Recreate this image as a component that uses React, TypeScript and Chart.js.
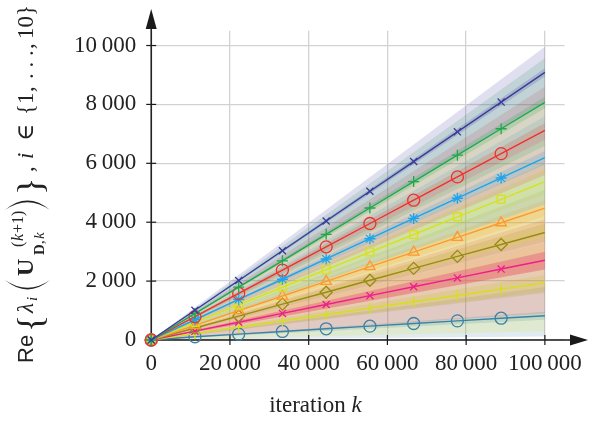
import React, { useEffect, useRef } from "react";
import { Chart, registerables } from "chart.js";
Chart.register(...registerables);

// ---- data ----
const iterations = [0, 11111, 22222, 33333, 44444, 55556, 66667, 77778, 88889, 100000];
const lambda1 = [0, 1010, 2020, 3030, 4040, 5050, 6060, 7070, 8080, 9090];
const lambda2 = [0, 897, 1793, 2690, 3587, 4483, 5380, 6277, 7173, 8070];
const lambda3 = [0, 791, 1582, 2373, 3164, 3956, 4747, 5538, 6329, 7120];
const lambda4 = [0, 688, 1376, 2063, 2751, 3439, 4127, 4814, 5502, 6190];
const lambda5 = [0, 597, 1194, 1792, 2389, 2986, 3583, 4181, 4778, 5375];
const lambda6 = [0, 498, 996, 1493, 1991, 2489, 2987, 3484, 3982, 4480];
const lambda7 = [0, 406, 811, 1217, 1622, 2028, 2433, 2839, 3244, 3650];
const lambda8 = [0, 301, 602, 903, 1204, 1506, 1807, 2108, 2409, 2710];
const lambda9 = [0, 216, 432, 648, 864, 1081, 1297, 1513, 1729, 1945];
const lambda10 = [0, 110, 200, 290, 380, 470, 560, 650, 740, 825];
const seriesValues = [lambda1, lambda2, lambda3, lambda4, lambda5, lambda6, lambda7, lambda8, lambda9, lambda10];

// band edges at the last iteration (bands start at the origin)
const bandIterations = [0, 100000];
const outerUpper = [9960, 9565, 8600, 7600, 6800, 6000, 5100, 4100, 3300, 1800];
const outerLower = [8100, 6600, 5600, 4600, 3500, 2400, 1600, 900, 300, 120];
const innerUpper = [9230, 8260, 7370, 6420, 5770, 4750, 3960, 3000, 2210, 960];
const innerLower = [8950, 7870, 6800, 5960, 4950, 4200, 3340, 2390, 1650, 690];

const xTicks = [0, 20000, 40000, 60000, 80000, 100000];
const yTicks = [0, 2000, 4000, 6000, 8000, 10000];

const colors = ["#3b3b9a", "#1fa84c", "#f0312c", "#1aa6ec", "#dbe01a", "#fc9a30", "#978c16", "#ee1f8b", "#d3e01c", "#3c82a6"];
const markers = ["crossRot", "cross", "circle", "star", "rect", "triangle", "rectRot", "crossRot", "line", "circle"];
const markerRot = [0, 0, 0, 0, 0, 0, 0, 0, 90, 0];
const markerSize = [5, 5.5, 6, 5.5, 5.5, 6, 6, 5, 5.5, 6];

const serif = "'Liberation Serif', 'DejaVu Serif', serif";

function fmt(v: number) {
  return String(v).replace(/\B(?=(\d{3})+(?!\d))/g, "\u2009");
}

function hexA(hex: string, a: number) {
  const n = parseInt(hex.slice(1), 16);
  return `rgba(${(n >> 16) & 255},${(n >> 8) & 255},${n & 255},${a})`;
}

function paren(ctx: CanvasRenderingContext2D, s: number, top: number, bot: number, dir: number) {
  const h = bot - top;
  const mid = (top + bot) / 2;
  const bulge = s - dir * h * 0.22;
  ctx.beginPath();
  ctx.moveTo(s + dir * h * 0.2, top);
  ctx.quadraticCurveTo(bulge, mid, s + dir * h * 0.2, bot);
  ctx.quadraticCurveTo(bulge + dir * 3.2, mid, s + dir * h * 0.2, top);
  ctx.closePath();
  ctx.fill();
}

const decorPlugin = {
  id: "decor",
  beforeDatasetsDraw(chart: any) {
    const ctx = chart.ctx;
    const xs = chart.scales.x;
    const ys = chart.scales.y;
    const x0 = xs.getPixelForValue(0);
    const y0 = ys.getPixelForValue(0);
    ctx.save();
    ctx.strokeStyle = "#1a1a1a";
    ctx.fillStyle = "#1a1a1a";
    ctx.lineWidth = 1.5;
    ctx.beginPath();
    ctx.moveTo(x0 - 6, y0);
    ctx.lineTo(575, y0);
    ctx.stroke();
    ctx.beginPath();
    ctx.moveTo(588, y0);
    ctx.lineTo(570, y0 - 5.5);
    ctx.lineTo(570, y0 + 5.5);
    ctx.closePath();
    ctx.fill();
    ctx.beginPath();
    ctx.moveTo(x0, y0 + 6);
    ctx.lineTo(x0, 22);
    ctx.stroke();
    ctx.beginPath();
    ctx.moveTo(x0, 9);
    ctx.lineTo(x0 - 5.5, 29);
    ctx.lineTo(x0 + 5.5, 29);
    ctx.closePath();
    ctx.fill();
    ctx.lineWidth = 1.2;
    for (const t of xTicks) {
      if (t === 0) continue;
      const px = xs.getPixelForValue(t);
      ctx.beginPath();
      ctx.moveTo(px, y0 - 5);
      ctx.lineTo(px, y0 + 5);
      ctx.stroke();
    }
    for (const t of yTicks) {
      if (t === 0) continue;
      const py = ys.getPixelForValue(t);
      ctx.beginPath();
      ctx.moveTo(x0 - 5, py);
      ctx.lineTo(x0 + 5, py);
      ctx.stroke();
    }
    ctx.restore();
  },
  afterDraw(chart: any) {
    const ctx = chart.ctx;
    ctx.save();
    ctx.fillStyle = "#222";
    ctx.textBaseline = "alphabetic";
    const a = "iteration ";
    ctx.font = `23px ${serif}`;
    const wa = ctx.measureText(a).width;
    ctx.font = `italic 23px ${serif}`;
    const wk = ctx.measureText("k").width;
    const start = 315.5 - (wa + wk) / 2;
    ctx.font = `23px ${serif}`;
    ctx.fillText(a, start, 412);
    ctx.font = `italic 23px ${serif}`;
    ctx.fillText("k", start + wa, 412);

    ctx.translate(33, 363);
    ctx.rotate(-Math.PI / 2);
    const pieces: [string, string, number, number][] = [
      ["Re", "22px 'Liberation Sans', 'DejaVu Sans', sans-serif", 0, 0],
      ["{", `36px ${serif}`, 31, 9],
      ["\u03bb", `italic 23px ${serif}`, 50, 0],
      ["i", `italic 15px ${serif}`, 62, 4],
      ["U", `bold 24px ${serif}`, 87, 0],
      ["(", `16px ${serif}`, 116, -10],
      ["k", `italic 16px ${serif}`, 122, -10],
      ["+1)", `16px ${serif}`, 130, -10],
      ["D", `bold 15px ${serif}`, 108, 11],
      [",", `15px ${serif}`, 119, 11],
      ["k", `italic 15px ${serif}`, 124, 11],
      ["}", `36px ${serif}`, 168, 9],
      [",", `23px ${serif}`, 191, 0],
      ["i", `italic 23px ${serif}`, 204, 0],
      ["\u2208", `23px 'DejaVu Serif', serif`, 222, 0],
      ["{", `23px ${serif}`, 248, 0],
      ["1", `23px ${serif}`, 259, 0],
      [",", `23px ${serif}`, 271, 0],
      [". . .", `23px ${serif}`, 284, 0],
      [",", `23px ${serif}`, 314, 0],
      ["10", `23px ${serif}`, 324, 0],
      ["}", `23px ${serif}`, 347, 0],
    ];
    for (const [t, f, s, dy] of pieces) {
      ctx.font = f;
      ctx.fillText(t, s, dy);
    }
    paren(ctx, 74, -28, 17, 1);
    paren(ctx, 162, -28, 17, -1);
    ctx.restore();
  },
};

export default function App() {
  const ref = useRef<HTMLCanvasElement | null>(null);
  useEffect(() => {
    if (!ref.current) return;
    const datasets: any[] = [];
    for (let i = 0; i < seriesValues.length; i++) {
      const c = colors[i];
      datasets.push({
        data: bandIterations.map((x, j) => ({ x, y: j === 0 ? 0 : outerUpper[i] })),
        borderWidth: 0, pointRadius: 0, fill: "+1",
        backgroundColor: hexA(c, 0.16), order: 20,
      });
      datasets.push({
        data: bandIterations.map((x, j) => ({ x, y: j === 0 ? 0 : outerLower[i] })),
        borderWidth: 0, pointRadius: 0, fill: false, order: 20,
      });
      datasets.push({
        data: bandIterations.map((x, j) => ({ x, y: j === 0 ? 0 : innerUpper[i] })),
        borderWidth: 0, pointRadius: 0, fill: "+1",
        backgroundColor: hexA(c, i === 7 ? 0.35 : 0.2), order: 20,
      });
      datasets.push({
        data: bandIterations.map((x, j) => ({ x, y: j === 0 ? 0 : innerLower[i] })),
        borderWidth: 0, pointRadius: 0, fill: false, order: 20,
      });
    }
    for (let i = 0; i < seriesValues.length; i++) {
      datasets.push({
        data: iterations.map((x, j) => ({ x, y: seriesValues[i][j] })),
        borderColor: colors[i],
        borderWidth: 1.4,
        fill: false,
        pointStyle: markers[i],
        pointRotation: markerRot[i],
        pointRadius: iterations.map((_, j) => (j === iterations.length - 1 ? 0 : markerSize[i])),
        pointBorderColor: colors[i],
        pointBackgroundColor: "rgba(0,0,0,0)",
        pointBorderWidth: 1.3,
        clip: false,
        order: 0,
      });
    }
    const chart = new Chart(ref.current, {
      type: "line",
      data: { datasets },
      options: {
        animation: false,
        responsive: false,
        devicePixelRatio: 1,
        layout: { padding: { left: 0, right: 27.6, top: 30.8, bottom: 0 } },
        plugins: {
          legend: { display: false },
          tooltip: { enabled: false },
          filler: { drawTime: "beforeDatasetsDraw" },
        },
        scales: {
          x: {
            type: "linear",
            min: 0,
            max: 105000,
            afterBuildTicks: (s: any) => { s.ticks = xTicks.map((v) => ({ value: v })); },
            afterFit: (s: any) => { s.height = 81; },
            grid: { color: "#d2d2d2", lineWidth: 1.3, drawTicks: false },
            border: { display: false },
            ticks: {
              padding: 10,
              color: "#222",
              font: { family: serif, size: 23 },
              maxRotation: 0,
              autoSkip: false,
              callback: (v: any) => fmt(Number(v)),
            },
          },
          y: {
            type: "linear",
            min: 0,
            max: 10500,
            afterBuildTicks: (s: any) => { s.ticks = yTicks.map((v) => ({ value: v })); },
            afterFit: (s: any) => { s.width = 151.2; },
            grid: { color: "#d2d2d2", lineWidth: 1.3, drawTicks: false },
            border: { display: false },
            ticks: {
              padding: 15,
              color: "#222",
              font: { family: serif, size: 23 },
              autoSkip: false,
              callback: (v: any) => fmt(Number(v)),
            },
          },
        },
      } as any,
      plugins: [decorPlugin],
    });
    return () => chart.destroy();
  }, []);
  return (
    <div style={{ position: "fixed", left: 0, top: 0, width: 593, height: 421, background: "#fff" }}>
      <canvas ref={ref} width={593} height={421} style={{ display: "block" }} />
    </div>
  );
}
